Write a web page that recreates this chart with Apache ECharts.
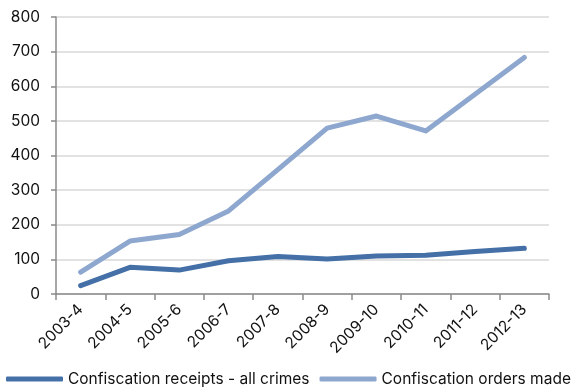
<!DOCTYPE html>
<html>
<head>
<meta charset="utf-8">
<script src="https://cdn.jsdelivr.net/npm/echarts@6/dist/echarts.min.js"></script>
<style>html,body{margin:0;padding:0;background:#fff;}#c{width:571px;height:389px;}</style>
</head>
<body>
<div id="c"></div>
<script>
var categories = ['2003-4','2004-5','2005-6','2006-7','2007-8','2008-9','2009-10','2010-11','2011-12','2012-13'];
var receipts = [24, 77, 69, 96, 108, 101, 110, 112, 123, 132];
var orders = [63, 153, 172, 240, 359, 479, 514, 471, 577, 683];
var seriesNames = ['Confiscation receipts - all crimes', 'Confiscation orders made'];

var chart = echarts.init(document.getElementById('c'), null, {renderer: 'canvas'});
var font = 'Inter, Liberation Sans, Arial, sans-serif';
chart.setOption({
  animation: false,
  textStyle: {fontFamily: font},
  grid: {left: 56, right: 22, top: 17, bottom: 95, containLabel: false},
  legend: {
    left: 6, top: 371, padding: 0, width: 620,
    itemWidth: 57, itemHeight: 5, itemGap: 10,
    icon: 'roundRect',
    textStyle: {fontSize: 15.5, color: '#111', fontFamily: font},
    data: seriesNames
  },
  xAxis: {
    type: 'category', data: categories, boundaryGap: true,
    axisLine: {lineStyle: {color: '#8a8a8a', width: 1.5}},
    axisTick: {show: true, interval: 0, length: 6, lineStyle: {color: '#8a8a8a', width: 1.5}},
    axisLabel: {interval: 0, rotate: 45, fontSize: 15.5, color: '#111', margin: 13, fontFamily: font}
  },
  yAxis: {
    type: 'value', min: 0, max: 800, interval: 100,
    axisLine: {show: true, lineStyle: {color: '#8a8a8a', width: 1.5}},
    axisTick: {show: true, length: 5, lineStyle: {color: '#8a8a8a', width: 1.5}},
    axisLabel: {fontSize: 15.5, color: '#111', margin: 16, fontFamily: font},
    splitLine: {lineStyle: {color: '#d9d9d9', width: 1.5}}
  },
  series: [
    {name: seriesNames[0], type: 'line', data: receipts, symbol: 'none',
     lineStyle: {color: '#4470a7', width: 5, cap: 'round', join: 'round'}, itemStyle: {color: '#4470a7'}},
    {name: seriesNames[1], type: 'line', data: orders, symbol: 'none',
     lineStyle: {color: '#8ea7cf', width: 5, cap: 'round', join: 'round'}, itemStyle: {color: '#8ea7cf'}}
  ]
});
</script>
</body>
</html>
